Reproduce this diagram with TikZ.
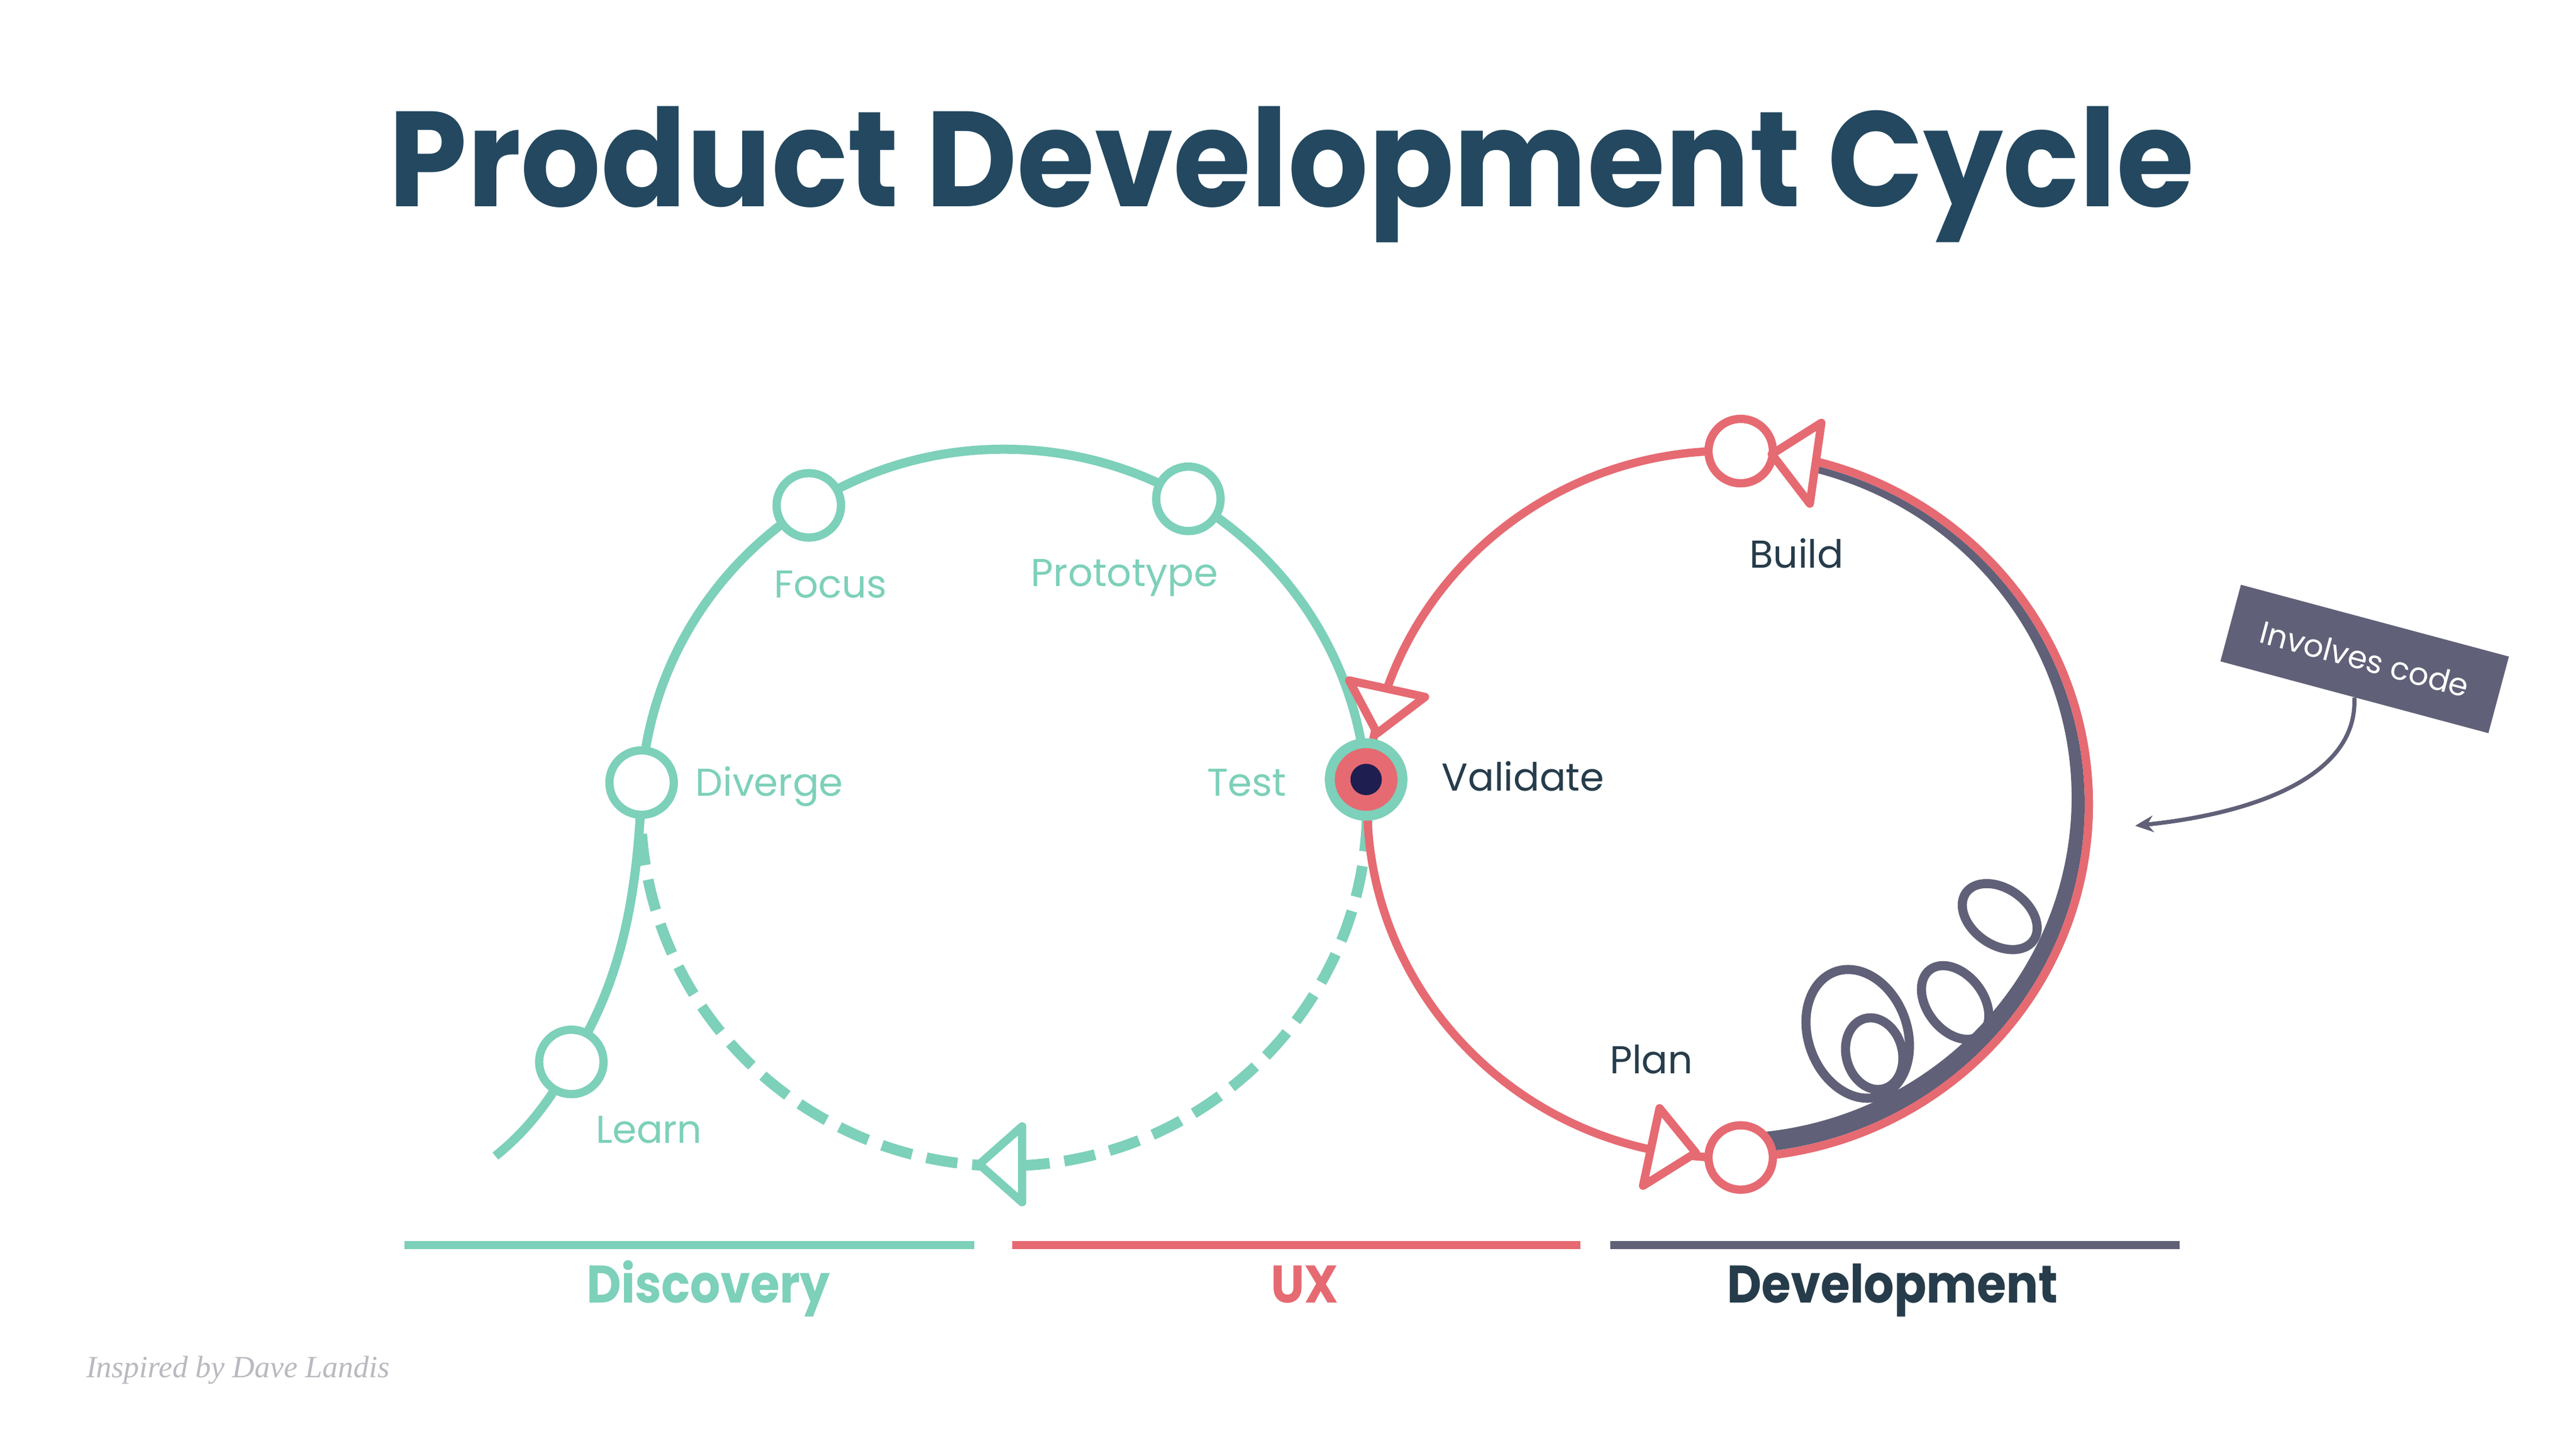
\documentclass[tikz,border=0pt]{standalone}
\usepackage{fontspec}
\setmainfont{Poppins}
\newfontfamily\titlefont{Poppins}[FakeStretch=0.93]
\newfontfamily\barfont{Poppins}[FakeStretch=0.9]
\newfontfamily\footfont{Liberation Serif}
\usetikzlibrary{calc,arrows.meta}
\definecolor{gr}{RGB}{125,208,185}
\definecolor{rd}{RGB}{230,106,114}
\definecolor{gy}{RGB}{96,96,120}
\definecolor{nv}{RGB}{35,72,96}
\definecolor{dk}{RGB}{38,60,75}
\definecolor{dotc}{RGB}{30,30,80}
\definecolor{ft}{RGB}{185,185,192}
\tikzset{
  gline/.style={draw=gr, line width=5.5pt},
  rline/.style={draw=rd, line width=5pt},
  stagenode/.style={circle, fill=white, line width=5pt, minimum size=39pt, inner sep=0pt},
  tri/.style={fill=white, line width=5pt, line join=round},
  lbl/.style={font=\fontsize{23.5}{28}\selectfont, anchor=base, inner sep=0pt},
  glabel/.style={lbl, text=gr},
  dlabel/.style={lbl, text=dk},
  barlabel/.style={font=\barfont\bfseries\fontsize{32}{36}\selectfont, anchor=base, inner sep=0pt},
  loop/.style={draw=gy, line width=5.5pt},
  bar/.style={line width=5pt},
}
\begin{document}
\begin{tikzpicture}[x=1pt,y=-1pt]
\useasboundingbox[fill=white] (0,0) rectangle (1560,872.5);

% title
\node[anchor=base, inner sep=0pt, text=nv, font=\titlefont\bfseries\fontsize{82}{90}\selectfont] (title) at (782,125) {Product Development Cycle};

% centres
\coordinate (G) at (608,489);
\coordinate (R) at (1046.5,487);

% green loop
\draw[gline] ($(G)+(184:220 and 217)$) arc[start angle=184, end angle=356, x radius=220, y radius=217];
\draw[gline, line width=6.5pt, dash pattern=on 19pt off 9pt] ($(G)+(2:220 and 217)$) arc[start angle=2, end angle=176, x radius=220, y radius=217];

% node positions
\coordinate (pdiv) at ($(G)+(184:220 and 217)$);
\coordinate (pfoc) at ($(G)+(237.5:220 and 217)$);
\coordinate (ppro) at ($(G)+(300.5:220 and 217)$);
\coordinate (ptest) at ($(G)+(355.5:220 and 217)$);
\coordinate (pbuild) at ($(R)+(272:218.5 and 214)$);
\coordinate (pplan) at ($(R)+(88:218.5 and 214)$);
\coordinate (plearn) at (346,643);
\coordinate (tailend) at (300,700);

% learn tail
\draw[gline] (pdiv) .. controls (386,570) and (365,610) .. (plearn) .. controls (330,672) and (315,688) .. (tailend);

% development band (grey crescent)
\fill[gy] ($(R)+(84:216 and 211.5)$) arc[start angle=84, end angle=-76, x radius=216, y radius=211.5]
  -- ($(R)+(0,-4)+(-76:208 and 203.5)$) arc[start angle=-76, end angle=84, x radius=208, y radius=203.5] -- cycle;

% loops
\draw[loop, rotate around={20:(1125,626)}] (1125,626) ellipse[x radius=30, y radius=40];
\draw[loop, rotate around={15:(1135,638)}] (1135,638) ellipse[x radius=17, y radius=22];
\draw[loop, rotate around={38:(1184,607)}] (1184,607) ellipse[x radius=17, y radius=25];
\draw[loop, rotate around={55:(1211,555)}] (1211,555) ellipse[x radius=17, y radius=25];

% red loop
\draw[rline] (R) ellipse[x radius=218.5, y radius=214];

% stage nodes
\node[stagenode, draw=gr] (div) at (pdiv) {};
\node[stagenode, draw=gr] (foc) at (pfoc) {};
\node[stagenode, draw=gr] (pro) at (ppro) {};
\node[stagenode, draw=gr] (lea) at (plearn) {};
\node[stagenode, draw=rd] (bui) at (pbuild) {};
\node[stagenode, draw=rd] (pla) at (pplan) {};
\node[circle, fill=rd, draw=gr, line width=6pt, minimum size=44pt, inner sep=0pt] (test) at (ptest) {};
\node[circle, fill=dotc, minimum size=19pt, inner sep=0pt] (testdot) at (test.center) {};

% arrow heads
\draw[tri, draw=gr] (593,705) -- (619,682) -- (619,728) -- cycle;
\draw[tri, draw=rd] (1073,275) -- (1103,256) -- (1096,305) -- cycle;
\draw[tri, draw=rd] (834,444) -- (817,412) -- (863,422) -- cycle;
\draw[tri, draw=rd] (1027,698) -- (1005,671) -- (995,718) -- cycle;

% labels
\node[glabel] (lfoc) at (503,362) {Focus};
\node[glabel] (lpro) at (681,355) {Prototype};
\node[glabel, anchor=base west] (ldiv) at (421,482) {Diverge};
\node[glabel] (ltest) at (755,482) {Test};
\node[glabel] (llea) at (393,692) {Learn};
\node[dlabel, anchor=base west] (lval) at (873,479) {Validate};
\node[dlabel] (lbui) at (1088,344) {Build};
\node[dlabel] (lpla) at (1000,650) {Plan};

% involves code
\node[fill=gy, text=white, minimum width=168pt, minimum height=48pt, inner sep=0pt, rotate=-15,
      font=\fontsize{19}{22}\selectfont] (code) at (1432,399) {Involves code};
\coordinate (codept) at (1293,500);
\draw[gy, line width=2.5pt, -{Stealth[length=11pt, width=10pt]}] (code.south) .. controls (1428,468) and (1370,492) .. (codept);

% bars
\coordinate (b1a) at (245,754); \coordinate (b1b) at (590,754);
\coordinate (b2a) at (613,754); \coordinate (b2b) at (957,754);
\coordinate (b3a) at (975,754); \coordinate (b3b) at (1320,754);
\draw[bar, gr] (b1a) -- (b1b);
\draw[bar, rd] (b2a) -- (b2b);
\draw[bar, gy] (b3a) -- (b3b);
\node[barlabel, text=gr] (ldisc) at (429,789) {Discovery};
\node[barlabel, text=rd] (lux) at (790,789) {UX};
\node[barlabel, text=dk] (ldev) at (1146,789) {Development};

% footnote
\node[anchor=base west, inner sep=0pt, text=ft, font=\footfont\itshape\fontsize{18.7}{22}\selectfont] (foot) at (52,834) {Inspired by Dave Landis};
\end{tikzpicture}
\end{document}
